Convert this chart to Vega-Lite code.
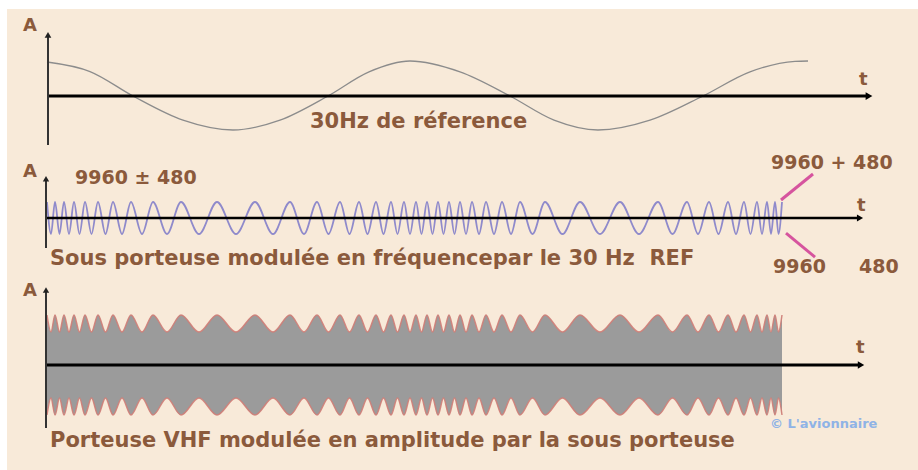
{
  "$schema": "https://vega.github.io/schema/vega-lite/v6.json",
  "background": "#ffffff",
  "padding": {"left": 7, "top": 9, "right": 0, "bottom": 0},
  "spacing": 0,
  "bounds": "flush",
  "config": {
    "view": {"stroke": null, "fill": "#f8ead9"},
    "concat": {"spacing": 0},
    "text": {"font": "DejaVu Sans", "fontWeight": "bold", "color": "#8b5a3c", "align": "left", "baseline": "middle"}
  },
  "datasets": {
    "sine": [
      {"t": 47, "a": 1}, {"t": 90, "a": 0.72}, {"t": 133, "a": 0}, {"t": 183, "a": -0.71},
      {"t": 233, "a": -1}, {"t": 280, "a": -0.71}, {"t": 328, "a": 0}, {"t": 369, "a": 0.71},
      {"t": 410, "a": 1.03}, {"t": 460, "a": 0.71}, {"t": 510, "a": 0}, {"t": 554, "a": -0.71},
      {"t": 598, "a": -1}, {"t": 650, "a": -0.71}, {"t": 703, "a": 0}, {"t": 750, "a": 0.71},
      {"t": 795, "a": 1.02}, {"t": 808, "a": 1.03}
    ],
    "fm": [
      {"t": 47, "v": 1, "hi": 1, "lo": -1}, {"t": 51, "v": -1, "hi": 0.66, "lo": -0.66},
      {"t": 55, "v": 1, "hi": 1, "lo": -1}, {"t": 59.5, "v": -1, "hi": 0.66, "lo": -0.66},
      {"t": 64, "v": 1, "hi": 1, "lo": -1}, {"t": 69, "v": -1, "hi": 0.66, "lo": -0.66},
      {"t": 74, "v": 1, "hi": 1, "lo": -1}, {"t": 79.5, "v": -1, "hi": 0.66, "lo": -0.66},
      {"t": 85, "v": 1, "hi": 1, "lo": -1}, {"t": 91.5, "v": -1, "hi": 0.66, "lo": -0.66},
      {"t": 98, "v": 1, "hi": 1, "lo": -1}, {"t": 105.5, "v": -1, "hi": 0.66, "lo": -0.66},
      {"t": 113, "v": 1, "hi": 1, "lo": -1}, {"t": 122, "v": -1, "hi": 0.66, "lo": -0.66},
      {"t": 131, "v": 1, "hi": 1, "lo": -1}, {"t": 142, "v": -1, "hi": 0.66, "lo": -0.66},
      {"t": 153, "v": 1, "hi": 1, "lo": -1}, {"t": 167, "v": -1, "hi": 0.66, "lo": -0.66},
      {"t": 181, "v": 1, "hi": 1, "lo": -1}, {"t": 199, "v": -1, "hi": 0.66, "lo": -0.66},
      {"t": 217, "v": 1, "hi": 1, "lo": -1}, {"t": 236, "v": -1, "hi": 0.66, "lo": -0.66},
      {"t": 255, "v": 1, "hi": 1, "lo": -1}, {"t": 273, "v": -1, "hi": 0.66, "lo": -0.66},
      {"t": 290, "v": 1, "hi": 1, "lo": -1}, {"t": 304, "v": -1, "hi": 0.66, "lo": -0.66},
      {"t": 317, "v": 1, "hi": 1, "lo": -1}, {"t": 328.5, "v": -1, "hi": 0.66, "lo": -0.66},
      {"t": 340, "v": 1, "hi": 1, "lo": -1}, {"t": 349.5, "v": -1, "hi": 0.66, "lo": -0.66},
      {"t": 359, "v": 1, "hi": 1, "lo": -1}, {"t": 367.5, "v": -1, "hi": 0.66, "lo": -0.66},
      {"t": 376, "v": 1, "hi": 1, "lo": -1}, {"t": 383.5, "v": -1, "hi": 0.66, "lo": -0.66},
      {"t": 391, "v": 1, "hi": 1, "lo": -1}, {"t": 397.5, "v": -1, "hi": 0.66, "lo": -0.66},
      {"t": 404, "v": 1, "hi": 1, "lo": -1}, {"t": 410, "v": -1, "hi": 0.66, "lo": -0.66},
      {"t": 416, "v": 1, "hi": 1, "lo": -1}, {"t": 421.5, "v": -1, "hi": 0.66, "lo": -0.66},
      {"t": 427, "v": 1, "hi": 1, "lo": -1}, {"t": 432.5, "v": -1, "hi": 0.66, "lo": -0.66},
      {"t": 438, "v": 1, "hi": 1, "lo": -1}, {"t": 443.5, "v": -1, "hi": 0.66, "lo": -0.66},
      {"t": 449, "v": 1, "hi": 1, "lo": -1}, {"t": 454.5, "v": -1, "hi": 0.66, "lo": -0.66},
      {"t": 460, "v": 1, "hi": 1, "lo": -1}, {"t": 466, "v": -1, "hi": 0.66, "lo": -0.66},
      {"t": 472, "v": 1, "hi": 1, "lo": -1}, {"t": 479, "v": -1, "hi": 0.66, "lo": -0.66},
      {"t": 486, "v": 1, "hi": 1, "lo": -1}, {"t": 494, "v": -1, "hi": 0.66, "lo": -0.66},
      {"t": 502, "v": 1, "hi": 1, "lo": -1}, {"t": 511, "v": -1, "hi": 0.66, "lo": -0.66},
      {"t": 520, "v": 1, "hi": 1, "lo": -1}, {"t": 532.5, "v": -1, "hi": 0.66, "lo": -0.66},
      {"t": 545, "v": 1, "hi": 1, "lo": -1}, {"t": 562.5, "v": -1, "hi": 0.66, "lo": -0.66},
      {"t": 580, "v": 1, "hi": 1, "lo": -1}, {"t": 600, "v": -1, "hi": 0.66, "lo": -0.66},
      {"t": 620, "v": 1, "hi": 1, "lo": -1}, {"t": 639, "v": -1, "hi": 0.66, "lo": -0.66},
      {"t": 658, "v": 1, "hi": 1, "lo": -1}, {"t": 672.5, "v": -1, "hi": 0.66, "lo": -0.66},
      {"t": 687, "v": 1, "hi": 1, "lo": -1}, {"t": 698, "v": -1, "hi": 0.66, "lo": -0.66},
      {"t": 709, "v": 1, "hi": 1, "lo": -1}, {"t": 718.5, "v": -1, "hi": 0.66, "lo": -0.66},
      {"t": 728, "v": 1, "hi": 1, "lo": -1}, {"t": 736, "v": -1, "hi": 0.66, "lo": -0.66},
      {"t": 744, "v": 1, "hi": 1, "lo": -1}, {"t": 750.5, "v": -1, "hi": 0.66, "lo": -0.66},
      {"t": 757, "v": 1, "hi": 1, "lo": -1}, {"t": 762, "v": -1, "hi": 0.66, "lo": -0.66},
      {"t": 767, "v": 1, "hi": 1, "lo": -1}, {"t": 771, "v": -1, "hi": 0.66, "lo": -0.66},
      {"t": 775, "v": 1, "hi": 1, "lo": -1}, {"t": 778.5, "v": -1, "hi": 0.66, "lo": -0.66},
      {"t": 782, "v": 1, "hi": 1, "lo": -1}
    ],
    "h1": [{"t": 47, "t2": 869, "a": 0}],
    "v1": [{"t": 48, "a": -1.44, "a2": 1.8}],
    "lab1": [{"t": 23, "a": 2.06, "label": "A"}, {"t": 859, "a": 0.47, "label": "t"}],
    "cap1": [{"t": 310, "a": -0.76, "label": "30Hz de réference"}],
    "h2": [{"t": 46, "t2": 860, "a": 0}],
    "v2": [{"t": 46, "a": -1.875, "a2": 2.45}],
    "pink": [{"t": 781, "t2": 813, "a": 1.125, "a2": 2.75}, {"t": 786, "t2": 815, "a": -0.94, "a2": -2.44}],
    "lab2": [{"t": 23, "a": 2.875, "label": "A"}, {"t": 857, "a": 0.75, "label": "t"}],
    "num2": [{"t": 75, "a": 2.5, "label": "9960 ± 480"}, {"t": 771, "a": 3.44, "label": "9960 + 480"}, {"t": 773, "a": -3.06, "label": "9960\u00a0\u00a0\u00a0\u00a0\u00a0480"}],
    "cap2": [{"t": 50, "a": -2.56, "label": "Sous porteuse modulée en fréquencepar le 30 Hz\u00a0 REF"}],
    "h3": [{"t": 46, "t2": 861, "a": 0}],
    "v3": [{"t": 46, "a": -1.26, "a2": 1.5}],
    "lab3": [{"t": 23, "a": 1.48, "label": "A"}, {"t": 856, "a": 0.34, "label": "t"}],
    "cap3": [{"t": 50, "a": -1.52, "label": "Porteuse VHF modulée en amplitude par la sous porteuse"}],
    "copy3": [{"t": 770, "a": -1.18, "label": "© L'avionnaire"}]
  },
  "vconcat": [
    {
      "width": 911,
      "height": 141,
      "encoding": {
        "x": {"field": "t", "type": "quantitative", "scale": {"domain": [7, 918], "nice": false, "zero": false}, "axis": null}
      },
      "layer": [
        {"data": {"name": "sine"}, "mark": {"type": "line", "interpolate": "monotone", "stroke": "#8c8c8c", "strokeWidth": 1.3},
         "encoding": {"y": {"field": "a", "type": "quantitative", "scale": {"domain": [-1.588, 2.559], "nice": false, "zero": false}, "axis": null}}},
        {"data": {"name": "h1"}, "mark": {"type": "rule", "stroke": "#000000", "strokeWidth": 2.8},
         "encoding": {"x2": {"field": "t2"}, "y": {"field": "a", "type": "quantitative"}}},
        {"data": {"name": "h1"}, "mark": {"type": "point", "shape": "triangle-right", "filled": true, "color": "#000000", "size": 60, "opacity": 1},
         "encoding": {"x": {"field": "t2", "type": "quantitative"}, "y": {"field": "a", "type": "quantitative"}}},
        {"data": {"name": "v1"}, "mark": {"type": "rule", "stroke": "#333333", "strokeWidth": 2},
         "encoding": {"y": {"field": "a", "type": "quantitative"}, "y2": {"field": "a2"}}},
        {"data": {"name": "v1"}, "mark": {"type": "point", "shape": "triangle-up", "filled": true, "color": "#222222", "size": 45, "opacity": 1},
         "encoding": {"y": {"field": "a2", "type": "quantitative"}}},
        {"data": {"name": "lab1"}, "mark": {"type": "text", "fontSize": 18},
         "encoding": {"y": {"field": "a", "type": "quantitative"}, "text": {"field": "label"}}},
        {"data": {"name": "cap1"}, "mark": {"type": "text", "fontSize": 21},
         "encoding": {"y": {"field": "a", "type": "quantitative"}, "text": {"field": "label"}}}
      ]
    },
    {
      "width": 911,
      "height": 135,
      "encoding": {
        "x": {"field": "t", "type": "quantitative", "scale": {"domain": [7, 918], "nice": false, "zero": false}, "axis": null}
      },
      "layer": [
        {"data": {"name": "fm"}, "mark": {"type": "line", "interpolate": "monotone", "stroke": "#8f8acb", "strokeWidth": 1.8},
         "encoding": {"y": {"field": "v", "type": "quantitative", "scale": {"domain": [-4.1875, 4.25], "nice": false, "zero": false}, "axis": null}}},
        {"data": {"name": "h2"}, "mark": {"type": "rule", "stroke": "#000000", "strokeWidth": 2.4},
         "encoding": {"x2": {"field": "t2"}, "y": {"field": "a", "type": "quantitative"}}},
        {"data": {"name": "h2"}, "mark": {"type": "point", "shape": "triangle-right", "filled": true, "color": "#000000", "size": 50, "opacity": 1},
         "encoding": {"x": {"field": "t2", "type": "quantitative"}, "y": {"field": "a", "type": "quantitative"}}},
        {"data": {"name": "v2"}, "mark": {"type": "rule", "stroke": "#333333", "strokeWidth": 2},
         "encoding": {"y": {"field": "a", "type": "quantitative"}, "y2": {"field": "a2"}}},
        {"data": {"name": "v2"}, "mark": {"type": "point", "shape": "triangle-up", "filled": true, "color": "#222222", "size": 40, "opacity": 1},
         "encoding": {"y": {"field": "a2", "type": "quantitative"}}},
        {"data": {"name": "pink"}, "mark": {"type": "rule", "stroke": "#d6549e", "strokeWidth": 3},
         "encoding": {"x2": {"field": "t2"}, "y": {"field": "a", "type": "quantitative"}, "y2": {"field": "a2"}}},
        {"data": {"name": "lab2"}, "mark": {"type": "text", "fontSize": 18},
         "encoding": {"y": {"field": "a", "type": "quantitative"}, "text": {"field": "label"}}},
        {"data": {"name": "num2"}, "mark": {"type": "text", "fontSize": 19},
         "encoding": {"y": {"field": "a", "type": "quantitative"}, "text": {"field": "label"}}},
        {"data": {"name": "cap2"}, "mark": {"type": "text", "fontSize": 21},
         "encoding": {"y": {"field": "a", "type": "quantitative"}, "text": {"field": "label"}}}
      ]
    },
    {
      "width": 911,
      "height": 185,
      "encoding": {
        "x": {"field": "t", "type": "quantitative", "scale": {"domain": [7, 918], "nice": false, "zero": false}, "axis": null}
      },
      "layer": [
        {"data": {"name": "fm"}, "mark": {"type": "area", "interpolate": "monotone", "color": "#9b9b9b", "opacity": 1},
         "encoding": {"y": {"field": "hi", "type": "quantitative", "scale": {"domain": [-2.1, 1.6], "nice": false, "zero": false}, "axis": null}, "y2": {"field": "lo"}}},
        {"data": {"name": "fm"}, "mark": {"type": "line", "interpolate": "monotone", "stroke": "#cf7d77", "strokeWidth": 1.5, "opacity": 0.9},
         "encoding": {"y": {"field": "hi", "type": "quantitative"}}},
        {"data": {"name": "fm"}, "mark": {"type": "line", "interpolate": "monotone", "stroke": "#cf7d77", "strokeWidth": 1.5, "opacity": 0.9},
         "encoding": {"y": {"field": "lo", "type": "quantitative"}}},
        {"data": {"name": "h3"}, "mark": {"type": "rule", "stroke": "#000000", "strokeWidth": 2.8},
         "encoding": {"x2": {"field": "t2"}, "y": {"field": "a", "type": "quantitative"}}},
        {"data": {"name": "h3"}, "mark": {"type": "point", "shape": "triangle-right", "filled": true, "color": "#000000", "size": 55, "opacity": 1},
         "encoding": {"x": {"field": "t2", "type": "quantitative"}, "y": {"field": "a", "type": "quantitative"}}},
        {"data": {"name": "v3"}, "mark": {"type": "rule", "stroke": "#333333", "strokeWidth": 2},
         "encoding": {"y": {"field": "a", "type": "quantitative"}, "y2": {"field": "a2"}}},
        {"data": {"name": "v3"}, "mark": {"type": "point", "shape": "triangle-up", "filled": true, "color": "#222222", "size": 40, "opacity": 1},
         "encoding": {"y": {"field": "a2", "type": "quantitative"}}},
        {"data": {"name": "lab3"}, "mark": {"type": "text", "fontSize": 18},
         "encoding": {"y": {"field": "a", "type": "quantitative"}, "text": {"field": "label"}}},
        {"data": {"name": "cap3"}, "mark": {"type": "text", "fontSize": 21},
         "encoding": {"y": {"field": "a", "type": "quantitative"}, "text": {"field": "label"}}},
        {"data": {"name": "copy3"}, "mark": {"type": "text", "fontSize": 13, "color": "#8fb3e6"},
         "encoding": {"y": {"field": "a", "type": "quantitative"}, "text": {"field": "label"}}}
      ]
    }
  ]
}
